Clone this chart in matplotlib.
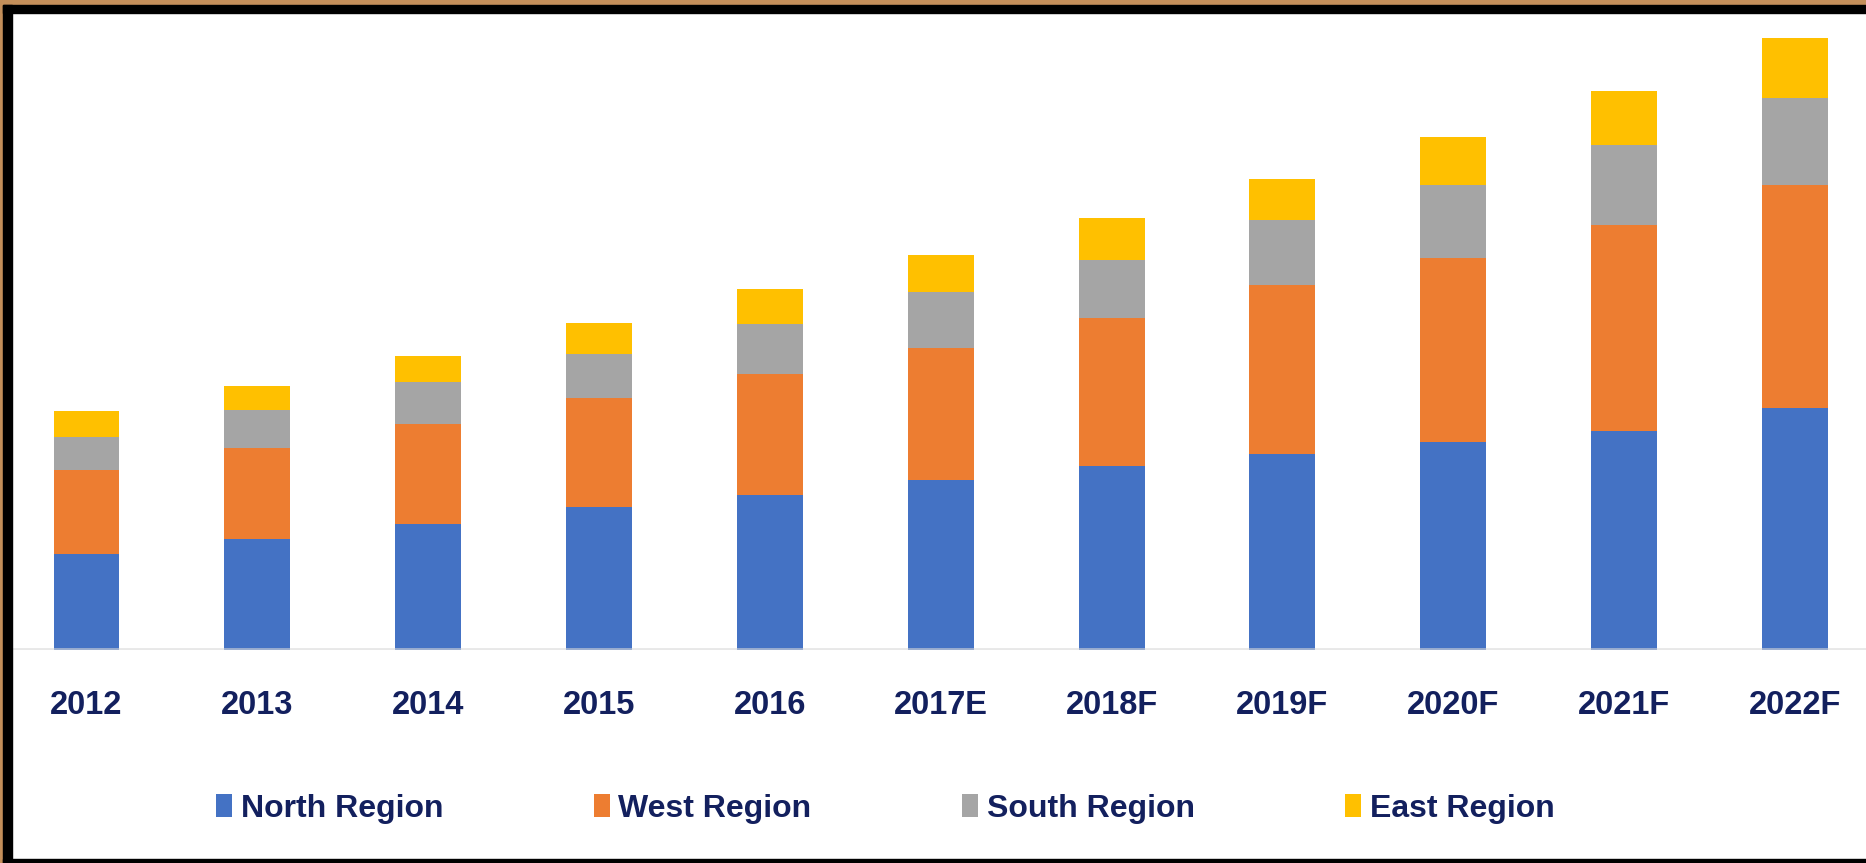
import matplotlib
matplotlib.use("Agg")
import matplotlib.pyplot as plt
from matplotlib.patches import Rectangle, Patch
import numpy as np

# values (arbitrary units, no y axis shown)
years = ["2012", "2013", "2014", "2015", "2016", "2017E", "2018F", "2019F", "2020F", "2021F", "2022F"]
north = [81, 93, 106, 120, 130, 143, 155, 165, 175, 184, 203]
west = [70, 77, 84, 92, 102, 111, 124, 142, 154, 173, 188]
south = [28, 32, 35, 37, 42, 47, 49, 54, 62, 67, 73]
east = [22, 20, 22, 26, 29, 31, 35, 35, 40, 46, 50]

series = [("North Region", north, "#4472c4"),
          ("West Region", west, "#ed7d31"),
          ("South Region", south, "#a5a5a5"),
          ("East Region", east, "#ffc000")]

W, H = 1866, 863
TEXT_COLOR = "#13205e"
FONT = "Liberation Sans"

fig = plt.figure(figsize=(W / 100, H / 100), dpi=100, facecolor="white")

# axes: baseline at y=650px, top just under the frame, left edge at frame
base_px, top_px, left_px = 650, 14, 12
ax = fig.add_axes([left_px / W, (H - base_px) / H, (W - left_px) / W, (base_px - top_px) / H])
ax.set_facecolor("white")

x = np.arange(len(years))
bottom = np.zeros(len(years))
for name, vals, color in series:
    ax.bar(x, vals, width=0.386, bottom=bottom, color=color, label=name, zorder=2)
    bottom += np.array(vals)

ax.axhline(0, color="#d9d9d9", lw=3.5, alpha=0.6, zorder=3)

spacing = 170.85
c0 = 86.5
ax.set_xlim((left_px - c0) / spacing, (W - c0) / spacing)
ax.set_ylim(0, (base_px - top_px) / 1.19)

for s in ax.spines.values():
    s.set_visible(False)
ax.set_yticks([])
ax.set_xticks(x)
ax.set_xticklabels(years, fontsize=23.5, fontweight="bold", color=TEXT_COLOR, family=FONT)
ax.tick_params(axis="x", length=0, pad=29)

handles = [Patch(facecolor=c, edgecolor="none") for _, _, c in series]
labels = [n for n, _, _ in series]
fig.legend(handles, labels, loc="center left", bbox_to_anchor=(216 / W, (H - 809) / H),
           ncol=4, frameon=False, borderpad=0, borderaxespad=0,
           handlelength=0.5, handleheight=0.72, handletextpad=0.28, columnspacing=4.7,
           prop={"family": FONT, "weight": "bold", "size": 23})
for t in fig.legends[0].get_texts():
    t.set_color(TEXT_COLOR)

# cork border and black frame
cork = "#c48f5a"
fig.add_artist(Rectangle((0, (H - 5) / H), 1, 5 / H, transform=fig.transFigure, color=cork, zorder=10))
fig.add_artist(Rectangle((0, 0), 3 / W, 1, transform=fig.transFigure, color=cork, zorder=10))
fig.add_artist(Rectangle((3 / W, (H - 13) / H), 1, 8 / H, transform=fig.transFigure, color="black", zorder=11))
fig.add_artist(Rectangle((3 / W, 0), 9 / W, (H - 5) / H, transform=fig.transFigure, color="black", zorder=11))
fig.add_artist(Rectangle((3 / W, 0), 1, 4 / H, transform=fig.transFigure, color="black", zorder=11))

fig.savefig("out.png", dpi=100, facecolor="white")
